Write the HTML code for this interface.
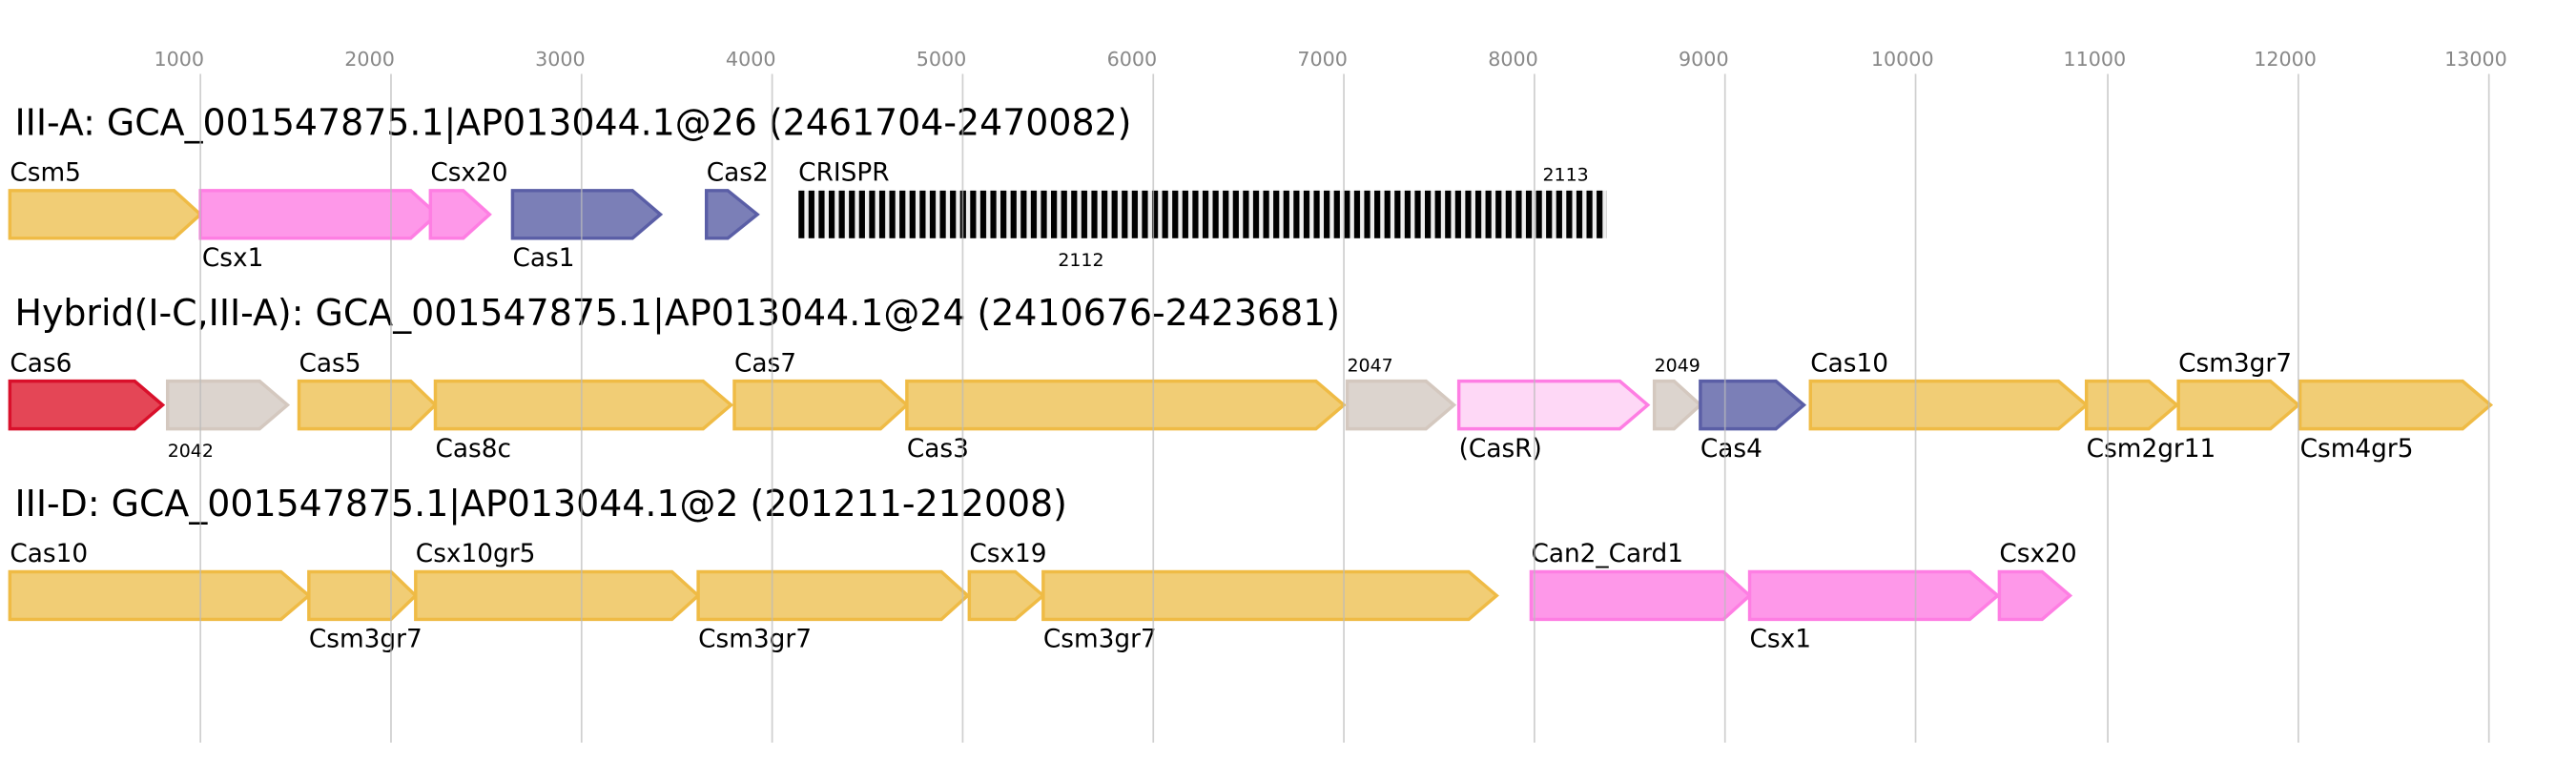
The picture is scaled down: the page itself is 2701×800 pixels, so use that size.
<!DOCTYPE html>
<html><head><meta charset="utf-8"><style>
html,body{margin:0;padding:0;background:#fff;}
svg{display:block;}
text{font-family:"DejaVu Sans","Liberation Sans",sans-serif;}
.t{font-size:22px;fill:#000;}
.l{font-size:15.3px;fill:#000;}
.s{font-size:11px;fill:#000;}
.k{font-size:12px;fill:#888;text-anchor:middle;}
.y{fill:#f1cd75;stroke:#efbb45;stroke-width:2;}
.p{fill:#fe98e9;stroke:#fe7ee3;stroke-width:2;}
.b{fill:#7b7fb7;stroke:#5a5ea6;stroke-width:2;}
.g{fill:#dcd4ce;stroke:#d4c8bf;stroke-width:2;}
.r{fill:#e44656;stroke:#d9102b;stroke-width:2;}
.q{fill:#fed8f6;stroke:#fe7ee3;stroke-width:2;}
</style></head><body>
<svg width="2701" height="800" viewBox="0 0 1568 464.4" xmlns="http://www.w3.org/2000/svg">
<defs><pattern id="cr" x="486" y="0" width="6.15" height="30" patternUnits="userSpaceOnUse"><rect width="6.15" height="30" fill="#eee"/><rect width="3.6" height="30" fill="#000"/></pattern></defs>
<g class="k">
<text x="109" y="40">1000</text><text x="225" y="40">2000</text><text x="341" y="40">3000</text><text x="457" y="40">4000</text><text x="573" y="40">5000</text><text x="689" y="40">6000</text><text x="805" y="40">7000</text><text x="921" y="40">8000</text><text x="1037" y="40">9000</text><text x="1158" y="40">10000</text><text x="1275" y="40">11000</text><text x="1391" y="40">12000</text><text x="1507" y="40">13000</text>
</g>
<text class="t" x="9" y="82">III-A: GCA_001547875.1|AP013044.1@26 (2461704-2470082)</text>
<text class="t" x="9" y="198">Hybrid(I-C,III-A): GCA_001547875.1|AP013044.1@24 (2410676-2423681)</text>
<text class="t" x="9" y="314">III-D: GCA_001547875.1|AP013044.1@2 (201211-212008)</text>
<!-- row1 -->
<polygon class="y" points="6,116 106,116 122,130.5 106,145 6,145"/>
<polygon class="p" points="122,116 250,116 266,130.5 250,145 122,145"/>
<polygon class="p" points="262,116 282,116 298,130.5 282,145 262,145"/>
<polygon class="b" points="312,116 385,116 402,130.5 385,145 312,145"/>
<polygon class="b" points="430,116 443,116 461,130.5 443,145 430,145"/>
<rect x="486" y="116" width="492" height="29" fill="url(#cr)"/>
<text class="l" x="6" y="110">Csm5</text><text class="l" x="123" y="162">Csx1</text><text class="l" x="262" y="110">Csx20</text><text class="l" x="312" y="162">Cas1</text><text class="l" x="430" y="110">Cas2</text><text class="l" x="486" y="110">CRISPR</text>
<text class="s" x="939" y="110">2113</text><text class="s" x="644" y="162">2112</text>
<!-- row2 -->
<polygon class="r" points="6,232 82,232 99,246.5 82,261 6,261"/>
<polygon class="g" points="102,232 158,232 175,246.5 158,261 102,261"/>
<polygon class="y" points="182,232 250,232 265,246.5 250,261 182,261"/>
<polygon class="y" points="265,232 428,232 445,246.5 428,261 265,261"/>
<polygon class="y" points="447,232 536,232 552,246.5 536,261 447,261"/>
<polygon class="y" points="552,232 801,232 818,246.5 801,261 552,261"/>
<polygon class="g" points="820,232 868,232 885,246.5 868,261 820,261"/>
<polygon class="q" points="888,232 986,232 1003,246.5 986,261 888,261"/>
<polygon class="g" points="1007,232 1019,232 1035,246.5 1019,261 1007,261"/>
<polygon class="b" points="1035,232 1081,232 1098,246.5 1081,261 1035,261"/>
<polygon class="y" points="1102,232 1253,232 1270,246.5 1253,261 1102,261"/>
<polygon class="y" points="1270,232 1308,232 1325,246.5 1308,261 1270,261"/>
<polygon class="y" points="1326,232 1382,232 1399,246.5 1382,261 1326,261"/>
<polygon class="y" points="1400,232 1499,232 1516,246.5 1499,261 1400,261"/>
<text class="l" x="6" y="226">Cas6</text><text class="s" x="102" y="278">2042</text><text class="l" x="182" y="226">Cas5</text><text class="l" x="265" y="278">Cas8c</text><text class="l" x="447" y="226">Cas7</text><text class="l" x="552" y="278">Cas3</text><text class="s" x="820" y="226">2047</text><text class="l" x="888" y="278">(CasR)</text><text class="s" x="1007" y="226">2049</text><text class="l" x="1035" y="278">Cas4</text><text class="l" x="1102" y="226">Cas10</text><text class="l" x="1270" y="278">Csm2gr11</text><text class="l" x="1326" y="226">Csm3gr7</text><text class="l" x="1400" y="278">Csm4gr5</text>
<!-- row3 -->
<polygon class="y" points="6,348 171,348 188,362.5 171,377 6,377"/>
<polygon class="y" points="188,348 238,348 253,362.5 238,377 188,377"/>
<polygon class="y" points="253,348 409,348 425,362.5 409,377 253,377"/>
<polygon class="y" points="425,348 573,348 589,362.5 573,377 425,377"/>
<polygon class="y" points="590,348 618,348 635,362.5 618,377 590,377"/>
<polygon class="y" points="635,348 894,348 911,362.5 894,377 635,377"/>
<polygon class="p" points="932,348 1049,348 1065,362.5 1049,377 932,377"/>
<polygon class="p" points="1065,348 1199,348 1216,362.5 1199,377 1065,377"/>
<polygon class="p" points="1217,348 1243,348 1260,362.5 1243,377 1217,377"/>
<text class="l" x="6" y="342">Cas10</text><text class="l" x="188" y="394">Csm3gr7</text><text class="l" x="253" y="342">Csx10gr5</text><text class="l" x="425" y="394">Csm3gr7</text><text class="l" x="590" y="342">Csx19</text><text class="l" x="635" y="394">Csm3gr7</text><text class="l" x="932" y="342">Can2_Card1</text><text class="l" x="1065" y="394">Csx1</text><text class="l" x="1217" y="342">Csx20</text>
<g stroke="#bbb" stroke-opacity="0.7" stroke-width="1">
<line x1="122" y1="45" x2="122" y2="452"/><line x1="238" y1="45" x2="238" y2="452"/><line x1="354" y1="45" x2="354" y2="452"/><line x1="470" y1="45" x2="470" y2="452"/><line x1="586" y1="45" x2="586" y2="452"/><line x1="702" y1="45" x2="702" y2="452"/><line x1="818" y1="45" x2="818" y2="452"/><line x1="934" y1="45" x2="934" y2="452"/><line x1="1050" y1="45" x2="1050" y2="452"/><line x1="1166" y1="45" x2="1166" y2="452"/><line x1="1283" y1="45" x2="1283" y2="452"/><line x1="1399" y1="45" x2="1399" y2="452"/><line x1="1515" y1="45" x2="1515" y2="452"/>
</g>
</svg>
</body></html>
